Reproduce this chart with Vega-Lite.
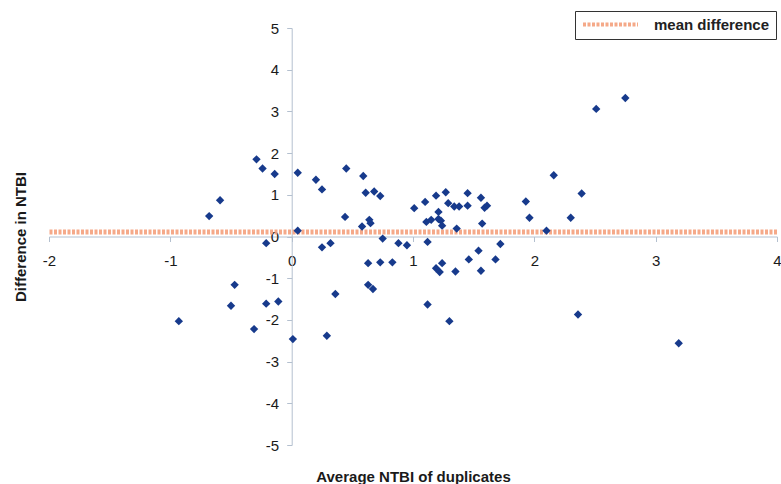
{
  "$schema": "https://vega.github.io/schema/vega-lite/v6.json",
  "width": 728,
  "height": 417,
  "autosize": "none",
  "padding": {"left": 49, "top": 28, "right": 4, "bottom": 39},
  "background": "white",
  "config": {
    "view": {"stroke": null},
    "font": "Liberation Sans"
  },
  "layer": [
    {
      "data": {"values": [{"mean": 0.105, "label": "mean difference"}]},
      "mark": {"type": "rule", "strokeWidth": 5, "strokeDash": [3, 1.5], "opacity": 0.9},
      "encoding": {
        "y": {"field": "mean", "type": "quantitative", "scale": {"domain": [-5, 5]}},
        "stroke": {
          "field": "label",
          "type": "nominal",
          "scale": {"range": ["#f4a07c"]},
          "legend": {
            "title": null,
            "orient": "none",
            "legendX": 526,
            "legendY": -17,
            "padding": 6,
            "strokeColor": "#333333",
            "fillColor": "white",
            "symbolType": "stroke",
            "symbolSize": 3025,
            "clipHeight": 15,
            "symbolStrokeWidth": 4,
            "symbolDash": [3, 1.5],
            "symbolStrokeColor": "#f4a07c",
            "labelFontSize": 15,
            "labelFontWeight": "bold",
            "labelColor": "#222222",
            "labelOffset": 14
          }
        }
      }
    },
    {
      "data": {"values": [
        {"avg": -0.68, "diff": 0.49}, {"avg": -0.59, "diff": 0.87}, {"avg": -0.29, "diff": 1.85},
        {"avg": -0.24, "diff": 1.63}, {"avg": -0.14, "diff": 1.50}, {"avg": 0.05, "diff": 1.53},
        {"avg": 0.05, "diff": 0.14}, {"avg": 0.20, "diff": 1.36}, {"avg": 0.25, "diff": 1.13},
        {"avg": 0.45, "diff": 1.63}, {"avg": 0.44, "diff": 0.47}, {"avg": 0.59, "diff": 1.45},
        {"avg": 0.61, "diff": 1.05}, {"avg": 0.68, "diff": 1.08}, {"avg": 0.73, "diff": 0.97},
        {"avg": 0.58, "diff": 0.24}, {"avg": 0.64, "diff": 0.40}, {"avg": 0.65, "diff": 0.32},
        {"avg": 0.75, "diff": -0.05}, {"avg": -0.21, "diff": -0.16}, {"avg": -0.93, "diff": -2.03},
        {"avg": -0.47, "diff": -1.16}, {"avg": -0.50, "diff": -1.66}, {"avg": -0.31, "diff": -2.22},
        {"avg": -0.21, "diff": -1.61}, {"avg": -0.11, "diff": -1.56}, {"avg": 0.01, "diff": -2.46},
        {"avg": 0.29, "diff": -2.38}, {"avg": 0.36, "diff": -1.38}, {"avg": 0.25, "diff": -0.26},
        {"avg": 0.32, "diff": -0.16}, {"avg": 0.63, "diff": -0.64}, {"avg": 0.73, "diff": -0.62},
        {"avg": 0.83, "diff": -0.62}, {"avg": 0.63, "diff": -1.16}, {"avg": 0.67, "diff": -1.26},
        {"avg": 1.01, "diff": 0.68}, {"avg": 1.10, "diff": 0.83}, {"avg": 1.19, "diff": 0.98},
        {"avg": 1.27, "diff": 1.06}, {"avg": 1.29, "diff": 0.80}, {"avg": 1.34, "diff": 0.72},
        {"avg": 1.38, "diff": 0.72}, {"avg": 1.45, "diff": 1.04}, {"avg": 1.45, "diff": 0.74},
        {"avg": 1.56, "diff": 0.93}, {"avg": 1.59, "diff": 0.69}, {"avg": 1.61, "diff": 0.74},
        {"avg": 1.21, "diff": 0.59}, {"avg": 1.11, "diff": 0.35}, {"avg": 1.15, "diff": 0.40},
        {"avg": 1.21, "diff": 0.42}, {"avg": 1.23, "diff": 0.38}, {"avg": 1.24, "diff": 0.26},
        {"avg": 1.36, "diff": 0.19}, {"avg": 1.57, "diff": 0.31}, {"avg": 1.93, "diff": 0.84},
        {"avg": 1.96, "diff": 0.45}, {"avg": 2.10, "diff": 0.14}, {"avg": 2.16, "diff": 1.47},
        {"avg": 2.30, "diff": 0.45}, {"avg": 2.39, "diff": 1.03}, {"avg": 2.51, "diff": 3.06},
        {"avg": 2.75, "diff": 3.32}, {"avg": 0.88, "diff": -0.16}, {"avg": 0.95, "diff": -0.21},
        {"avg": 1.12, "diff": -0.13}, {"avg": 1.54, "diff": -0.34}, {"avg": 1.72, "diff": -0.18},
        {"avg": 1.24, "diff": -0.64}, {"avg": 1.19, "diff": -0.76}, {"avg": 1.22, "diff": -0.85},
        {"avg": 1.35, "diff": -0.84}, {"avg": 1.46, "diff": -0.55}, {"avg": 1.56, "diff": -0.82},
        {"avg": 1.68, "diff": -0.55}, {"avg": 1.12, "diff": -1.63}, {"avg": 1.30, "diff": -2.03},
        {"avg": 2.36, "diff": -1.87}, {"avg": 3.19, "diff": -2.56}
      ]},
      "mark": {"type": "point", "shape": "diamond", "filled": true, "size": 70, "color": "#173a8c", "opacity": 1},
      "encoding": {
        "x": {
          "field": "avg",
          "type": "quantitative",
          "title": "Average NTBI of duplicates",
          "scale": {"domain": [-2, 4], "nice": false, "zero": false},
          "axis": {
            "values": [-2, -1, 0, 1, 2, 3, 4],
            "labelExpr": "replace(datum.label, '\u2212', '-')",
            "grid": false,
            "offset": -208.5,
            "domainColor": "#b4c0cf",
            "tickColor": "#b4c0cf",
            "tickSize": 5,
            "labelFontSize": 15,
            "labelColor": "#1a1a1a",
            "labelPadding": 12,
            "labelFlush": false,
            "titleFontSize": 15,
            "titleFontWeight": "bold",
            "titleColor": "#1a1a1a",
            "titleX": 364,
            "titleY": 240,
            "titleBaseline": "middle"
          }
        },
        "y": {
          "field": "diff",
          "type": "quantitative",
          "title": "Difference in NTBI",
          "scale": {"domain": [-5, 5], "nice": false},
          "axis": {
            "values": [-5, -4, -3, -2, -1, 0, 1, 2, 3, 4, 5],
            "labelExpr": "replace(datum.label, '\u2212', '-')",
            "grid": false,
            "offset": -242.7,
            "domainColor": "#b4c0cf",
            "tickColor": "#b4c0cf",
            "tickSize": 5,
            "labelFontSize": 15,
            "labelColor": "#1a1a1a",
            "labelPadding": 8,
            "labelFlush": false,
            "titleFontSize": 15,
            "titleFontWeight": "bold",
            "titleColor": "#1a1a1a",
            "titleAngle": -90,
            "titleX": -271.7,
            "titleY": 208.5,
            "titleBaseline": "middle",
            "titleAlign": "center"
          }
        }
      }
    }
  ]
}
